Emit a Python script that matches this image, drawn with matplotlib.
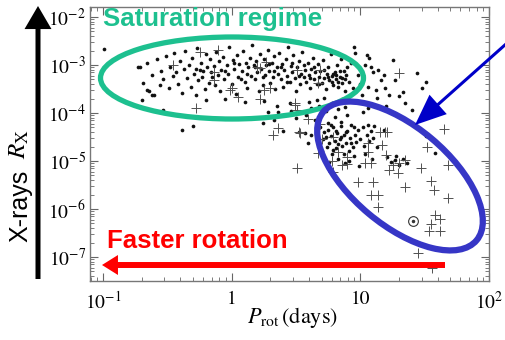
import matplotlib.pyplot as plt
import numpy as np
from matplotlib.patches import Ellipse, FancyArrowPatch
from matplotlib.ticker import NullFormatter

# values, stored as log10(P_rot / days) and log10(R_X)
sat_logp = [-0.71, -0.69, -0.66, -0.64, -0.62, -0.60, -0.58, -0.56, -0.55, -0.53,
            -0.51, -0.49, -0.48, -0.46, -0.45, -0.43, -0.42, -0.40, -0.39, -0.37,
            -0.36, -0.35, -0.33, -0.32, -0.31, -0.29, -0.28, -0.27, -0.26, -0.25,
            -0.24, -0.23, -0.21, -0.20, -0.19, -0.18, -0.17, -0.16, -0.14, -0.13,
            -0.12, -0.11, -0.10, -0.09, -0.08, -0.07, -0.06, -0.04, -0.03, -0.02,
            0.00, 0.01, 0.02, 0.03, 0.04, 0.05, 0.06, 0.08, 0.09, 0.10,
            0.11, 0.12, 0.13, 0.14, 0.15, 0.16, 0.17, 0.18, 0.19, 0.20,
            0.21, 0.22, 0.23, 0.24, 0.25, 0.26, 0.27, 0.28, 0.29, 0.30,
            0.31, 0.32, 0.33, 0.34, 0.35, 0.36, 0.37, 0.38, 0.39, 0.40,
            0.41, 0.42, 0.43, 0.44, 0.45, 0.46, 0.47, 0.48, 0.49, 0.50,
            0.51, 0.52, 0.53, 0.54, 0.55, 0.56, 0.57, 0.58, 0.59, 0.60,
            0.61, 0.62, 0.63, 0.64, 0.65, 0.66, 0.67, 0.68, 0.69, 0.70,
            0.71, 0.72, 0.73, 0.74, 0.75, 0.76, 0.77, 0.78, 0.79, 0.80,
            0.81, 0.82, 0.83, 0.84, 0.85, 0.86, 0.87, 0.88, 0.89, 0.90,
            0.91, 0.92, 0.93, 0.94, -0.28, -0.22, -0.15, -0.05, 0.02, 0.07,
            0.12, 0.18, 0.24, 0.29, 0.33, 0.38, 0.43, 0.47, 0.52, 0.56,
            0.61, 0.64, 0.68, 0.72, 0.75, 0.78, 0.81, 0.84, 0.86, 0.88,
            0.83, 0.79, -0.99, -0.73, -0.70, -0.66, -0.53, -0.39, -0.30, -0.62,
            -0.20, -0.05, 0.10, 0.25, 0.35, 0.45, 0.24, 0.33, 0.28, 0.36]
sat_logrx = [-3.05, -3.38, -2.95, -3.55, -3.20, -3.62, -2.88, -3.42, -3.12, -3.30,
             -2.82, -3.48, -3.05, -3.22, -2.75, -3.15, -3.40, -2.92, -3.58, -3.08,
             -2.70, -3.28, -3.00, -3.45, -2.85, -3.18, -3.62, -2.65, -3.32, -3.10,
             -2.95, -3.25, -3.50, -2.78, -3.05, -3.38, -2.88, -3.15, -3.02, -3.42,
             -2.72, -3.20, -2.92, -3.55, -3.10, -2.83, -3.30, -3.00, -3.18, -2.62,
             -3.40, -2.90, -3.08, -3.60, -2.80, -3.25, -2.98, -3.12, -2.70, -3.35,
             -2.95, -3.48, -3.05, -2.85, -3.22, -2.58, -3.00, -3.30, -2.92, -3.15,
             -3.55, -2.78, -3.08, -3.42, -2.88, -3.20, -3.00, -2.68, -3.12, -3.38,
             -2.95, -3.25, -2.82, -3.50, -3.05, -3.18, -2.75, -3.30, -2.98, -3.45,
             -3.10, -2.88, -3.22, -2.62, -3.35, -3.02, -3.15, -2.80, -3.28, -3.55,
             -3.05, -2.92, -3.40, -3.18, -2.72, -3.25, -3.10, -3.35, -2.95, -3.20,
             -3.48, -3.08, -2.85, -3.30, -3.15, -3.40, -2.98, -3.25, -3.12, -3.38,
             -2.90, -3.28, -3.50, -3.18, -3.05, -3.32, -2.78, -3.22, -3.42, -3.15,
             -3.30, -3.00, -3.45, -3.25, -2.88, -3.38, -3.12, -3.55, -3.20, -3.05,
             -3.35, -3.62, -2.95, -3.48, -3.08, -3.12, -3.25, -3.12, -2.95, -3.30,
             -3.18, -3.05, -3.25, -2.98, -3.12, -3.05, -3.35, -2.95, -3.22, -3.00,
             -3.28, -3.05, -3.40, -3.10, -3.25, -3.35, -3.20, -3.12, -3.28, -3.30,
             -3.35, -3.18, -2.67, -3.04, -3.73, -3.52, -3.94, -4.35, -4.27, -3.63,
             -3.72, -3.70, -3.78, -3.75, -3.85, -3.80, -4.20, -4.15, -3.98, -3.98]

slow_logp = [0.95, 0.96, 1.05, 1.07, 1.25, 1.08, 1.14, 1.10, 1.18, 1.16,
             1.44, 1.51, 1.48, 1.33, 1.30, 1.27, 1.19, 1.22, 1.12, 1.06,
             1.01, 1.40, 1.13, 1.06, 1.02, 0.98, 1.00, 1.04, 1.35, 1.20,
             0.46, 0.50, 0.55, 0.58, 0.62, 0.65, 0.68, 0.70, 0.73, 0.75,
             0.78, 0.80, 0.83, 0.85, 0.88, 0.90, 0.92, 0.66, 0.72, 0.86,
             0.60, 0.40, 0.52, 0.57, 0.62, 0.59,
             0.69, 0.71, 0.72, 0.74, 0.75, 0.76, 0.77, 0.78, 0.79, 0.80,
             0.81, 0.82, 0.83, 0.84, 0.85, 0.86, 0.87, 0.88, 0.89, 0.90,
             0.91, 0.92, 0.93, 0.94, 0.95, 0.96, 0.97, 0.98, 0.99, 1.00,
             0.73, 0.77, 0.81, 0.85, 0.89, 0.93, 0.95, 0.83, 0.79, 0.87,
             0.91, 0.76, 0.70, 0.67,
             1.02, 1.03, 1.05, 1.06, 1.07, 1.08, 1.10, 1.11, 1.13, 1.04,
             1.09, 1.21, 1.24, 1.27, 1.30, 1.33, 1.36, 1.28, 1.18, 1.58, 1.51]
slow_logrx = [-2.63, -2.75, -2.79, -2.85, -2.90, -3.04, -3.10, -3.15, -3.21, -3.31,
              -3.17, -3.35, -3.48, -3.56, -3.65, -3.31, -3.48, -3.63, -3.52, -3.46,
              -3.63, -3.94, -3.69, -3.90, -3.98, -3.20, -3.40, -3.00, -3.80, -3.85,
              -3.95, -4.10, -3.98, -4.05, -3.90, -4.15, -3.85, -4.02, -3.95, -4.20,
              -3.80, -4.08, -3.92, -4.18, -3.88, -4.05, -3.75, -3.72, -3.68, -3.70,
              -3.78, -4.38, -4.40, -4.42, -4.45, -4.62,
              -4.30, -4.55, -4.40, -4.70, -4.35, -4.62, -4.48, -4.85, -4.30, -4.58,
              -4.72, -4.42, -4.95, -4.55, -4.28, -4.68, -4.45, -5.05, -4.62, -4.38,
              -4.80, -4.52, -4.25, -4.70, -4.90, -4.45, -4.60, -4.35, -5.10, -4.55,
              -4.50, -4.25, -4.38, -4.50, -4.40, -4.62, -4.30, -4.65, -4.78, -4.85,
              -5.00, -5.02, -4.80, -4.55,
              -4.30, -4.68, -4.45, -4.25, -4.58, -4.38, -4.52, -4.28, -4.70, -4.85,
              -4.95, -4.92, -5.02, -4.98, -5.08, -4.95, -5.05, -4.90, -4.35, -4.83, -4.48]

cross_logp = [-0.25, -0.11, -0.46, -0.14, -0.01, 0.05, -0.28, 0.20, -0.14, 0.00,
              0.22, 0.27, 0.30, 0.22, 0.51, 0.69, 0.49, 0.25, 0.67,
              0.32, 0.49, 0.51, 0.53, 0.36, 0.51, 0.52, 0.59, 0.69, 0.70,
              0.79, 0.83, 0.86, 0.90, 0.79, 0.67, 0.78, 0.90,
              1.19, 1.15, 1.21, 1.65, 1.52, 1.68, 1.20, 1.06, 1.04, 1.08,
              1.30, 1.35, 1.25, 1.22, 1.29, 1.47, 1.55, 1.57, 1.68, 0.98,
              1.10, 1.08, 1.14, 1.35, 1.06, 1.17, 1.30,
              1.14, 1.58, 1.62, 1.55, 1.53, 1.62, 1.45, 1.56]
cross_logrx = [-2.73, -2.69, -3.00, -3.15, -3.52, -3.67, -3.90, -3.04, -3.31, -3.48,
               -3.06, -2.94, -3.48, -3.70, -3.10, -3.10, -3.83, -3.52, -3.38,
               -4.46, -3.79, -3.94, -4.42, -4.31, -5.15, -4.40, -4.12, -4.23, -4.54,
               -4.50, -4.81, -5.08, -5.06, -5.23, -4.83, -5.00, -4.92,
               -4.40, -4.40, -4.40, -4.33, -4.71, -5.08, -4.88, -4.81, -5.04, -5.04,
               -5.04, -4.98, -5.08, -5.19, -5.25, -5.15, -5.42, -5.60, -5.77, -5.44,
               -5.44, -5.71, -5.71, -5.54, -4.63, -4.67, -3.17,
               -5.96, -6.12, -6.21, -6.31, -6.46, -6.46, -6.92, -7.23]

sun_logp = 1.41
sun_logrx = -6.25

x_ticks = [0.1, 1, 10, 100]
x_ticklabels = [r'$10^{-1}$', '1', '10', r'$10^{2}$']
y_ticks = [1e-7, 1e-6, 1e-5, 1e-4, 1e-3, 1e-2]
y_ticklabels = [r'$10^{-7}$', r'$10^{-6}$', r'$10^{-5}$', r'$10^{-4}$', r'$10^{-3}$', r'$10^{-2}$']

plt.rcParams['mathtext.fontset'] = 'stix'
plt.rcParams['font.family'] = 'STIXGeneral'

W, H = 505, 340
fig = plt.figure(figsize=(W / 100, H / 100), dpi=100)
ax = fig.add_axes([90 / W, 59 / H, 399 / W, 274 / H])
ax.set_xscale('log')
ax.set_yscale('log')
ax.set_xlim(0.0792, 100)
ax.set_ylim(3.16e-8, 0.0162)

ax.scatter(10 ** np.array(sat_logp), 10 ** np.array(sat_logrx), s=7, c='#111111', linewidths=0, zorder=2)
ax.scatter(10 ** np.array(slow_logp), 10 ** np.array(slow_logrx), s=7, c='#111111', linewidths=0, zorder=2)
ax.scatter(10 ** np.array(cross_logp), 10 ** np.array(cross_logrx), s=45, marker='+', c='#505050', linewidths=0.7, zorder=2)
ax.plot(10 ** sun_logp, 10 ** sun_logrx, marker='o', mfc='none', mec='#333333', ms=7, mew=0.8)
ax.plot(10 ** sun_logp, 10 ** sun_logrx, marker='o', color='#333333', ms=1.5)

ax.set_xticks(x_ticks)
ax.set_xticklabels(x_ticklabels)
ax.set_yticks(y_ticks)
ax.set_yticklabels(y_ticklabels)
ax.xaxis.set_minor_formatter(NullFormatter())
ax.yaxis.set_minor_formatter(NullFormatter())
ax.tick_params(which='both', direction='in', top=True, right=True, color='#666666', labelsize=14)
ax.tick_params(which='major', length=6, width=0.8)
ax.tick_params(which='minor', length=3, width=0.6)
ax.tick_params(axis='x', pad=7)
ax.tick_params(axis='y', pad=3)
for sp in ax.spines.values():
    sp.set_color('#777777')
    sp.set_linewidth(1)

fig.text(293 / W, 1 - 318 / H, r'$P_{\rm rot}\,$(days)', fontsize=16, ha='center', va='center')

# overlay drawn in figure inches
tr = fig.dpi_scale_trans
def px(x, y):
    return (x / 100, (H - y) / 100)

fig.add_artist(Ellipse(px(232, 78), 2.63, 0.82, angle=0, fill=False, ec='#1dc08f', lw=3.8, transform=tr, zorder=5))
fig.add_artist(Ellipse(px(400, 176), 2.0, 0.98, angle=-40, fill=False, ec='#3636c6', lw=4.5, transform=tr, zorder=5))

fig.add_artist(FancyArrowPatch(px(515, 36), px(415, 125), transform=tr, color='#0000c8', lw=0,
                               arrowstyle='simple,head_length=2.23,head_width=1.87,tail_width=0.22',
                               mutation_scale=10, shrinkA=0, shrinkB=0, zorder=6))
fig.add_artist(FancyArrowPatch(px(445, 265), px(102, 265), transform=tr, color='#ff0000', lw=0,
                               arrowstyle='simple,head_length=1.15,head_width=1.44,tail_width=0.43',
                               mutation_scale=10, shrinkA=0, shrinkB=0, zorder=6))
fig.add_artist(FancyArrowPatch(px(38, 279), px(38, 6), transform=tr, color='black', lw=0,
                               arrowstyle='simple,head_length=1.66,head_width=1.94,tail_width=0.36',
                               mutation_scale=10, shrinkA=0, shrinkB=0, zorder=6))

fig.text(103 / W, 1 - 19 / H, 'Saturation regime', fontsize=18.5, fontweight='bold',
         family='Liberation Sans', color='#1dc08f', ha='left', va='center')
fig.text(107 / W, 1 - 241 / H, 'Faster rotation', fontsize=18.5, fontweight='bold',
         family='Liberation Sans', color='#ff0000', ha='left', va='center')
fig.text(20 / W, 1 - 206 / H, 'X-rays', fontsize=18, family='Liberation Sans',
         rotation=90, ha='center', va='center')
fig.text(20 / W, 1 - 144 / H, r'$R_{\rm X}$', fontsize=18, rotation=90, ha='center', va='center')

fig.savefig('out.png', dpi=100)
